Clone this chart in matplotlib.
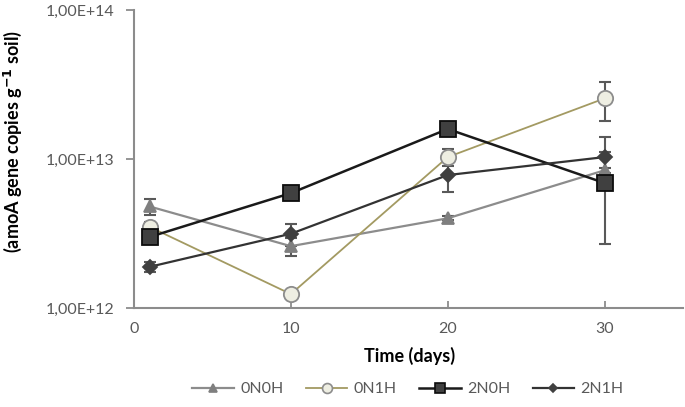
import math
import matplotlib.pyplot as plt
from matplotlib.lines import Line2D
from matplotlib.ticker import FixedLocator, FuncFormatter, NullLocator

plt.rcParams['font.family'] = ['Lato', 'DejaVu Sans']

days = [1, 10, 20, 30]
series_names = ['0N0H', '0N1H', '2N0H', '2N1H']

v_0n0h = [4.8e12, 2.6e12, 4.0e12, 8.4e12]
e_0n0h = [0.57e12, 0.35e12, 0.12e12, 0.3e12]
v_0n1h = [3.5e12, 1.24e12, 1.03e13, 2.55e13]
e_0n1h = [0.3e12, 0.06e12, 0.13e13, 0.76e13]
v_2n0h = [3.0e12, 5.9e12, 1.59e13, 6.9e12]
e_2n0h = [0.1e12, 0.2e12, 0.1e13, 4.2e12]
v_2n1h = [1.89e12, 3.15e12, 7.8e12, 1.03e13]
e_2n1h = [0.15e12, 0.54e12, 1.8e12, 0.38e13]

y_ticks = [1e12, 1e13, 1e14]
x_ticks = [0, 10, 20, 30]

W, H = 685, 407
fig = plt.figure(figsize=(W / 100, H / 100), dpi=100)
ax = fig.add_axes([134 / W, 1 - 308 / H, (683 - 134) / W, (308 - 10) / H])

styles = [
    # line colour, line width, marker, face, edge, size
    ('#8c8c8c', 1.6, '^', '#7f7f7f', '#7f7f7f', 9),
    ('#a39a62', 1.3, 'o', '#eeeee2', '#8c8c8c', 11),
    ('#1a1a1a', 1.8, 's', '#404040', '#0d0d0d', 11),
    ('#333333', 1.6, 'D', '#404040', '#404040', 7),
]
values = [v_0n0h, v_0n1h, v_2n0h, v_2n1h]
errors = [e_0n0h, e_0n1h, e_2n0h, e_2n1h]

handles = []
for name, (lc, lw, mk, fc, ec, ms), v, e in zip(series_names, styles, values, errors):
    ax.errorbar(days, v, yerr=e, fmt='none', ecolor='#595959', elinewidth=1.5,
                capsize=4, capthick=1.5, zorder=2)
    ax.plot(days, v, color=lc, lw=lw, marker=mk, ms=ms, mfc=fc, mec=ec,
            mew=1.3, zorder=3)
    handles.append(Line2D([], [], color=lc, lw=lw, marker=mk, ms=ms * 0.65,
                          mfc=fc, mec=ec, mew=1.2))

ax.set_yscale('log')
ax.set_ylim(1e12, 1e14)
ax.set_xlim(0, 35)
ax.yaxis.set_major_locator(FixedLocator(y_ticks))
ax.yaxis.set_minor_locator(NullLocator())
ax.yaxis.set_major_formatter(FuncFormatter(
    lambda v, p: '1,00E+%d' % round(math.log10(v))))
ax.xaxis.set_major_locator(FixedLocator(x_ticks))

for s in ['top', 'right']:
    ax.spines[s].set_visible(False)
for s in ['left', 'bottom']:
    ax.spines[s].set_color('#8c8c8c')
    ax.spines[s].set_linewidth(1.5)

ax.tick_params(axis='y', direction='out', length=6, width=1.3, color='#8c8c8c',
               labelsize=11.5, labelcolor='#595959', pad=8)
ax.tick_params(axis='x', direction='in', length=5, width=1.3, color='#8c8c8c',
               labelsize=11.5, labelcolor='#595959', pad=10)

fig.text(13 / W, 1 - 142 / H, '(amoA gene copies g$^{\\mathbf{-1}}$ soil)',
         rotation=90, ha='center', va='center', fontsize=13, fontweight='bold',
         color='#000000')
fig.text(410 / W, 1 - 356 / H, 'Time (days)', ha='center', va='center',
         fontsize=13, fontweight='bold')

fig.legend(handles, series_names, loc='center', bbox_to_anchor=(408 / W, 1 - 389 / H),
           ncol=4, frameon=False, fontsize=11.5, labelcolor='#595959',
           handlelength=2.6, columnspacing=1.4, handletextpad=0.4)

fig.savefig('out.png', dpi=100)
